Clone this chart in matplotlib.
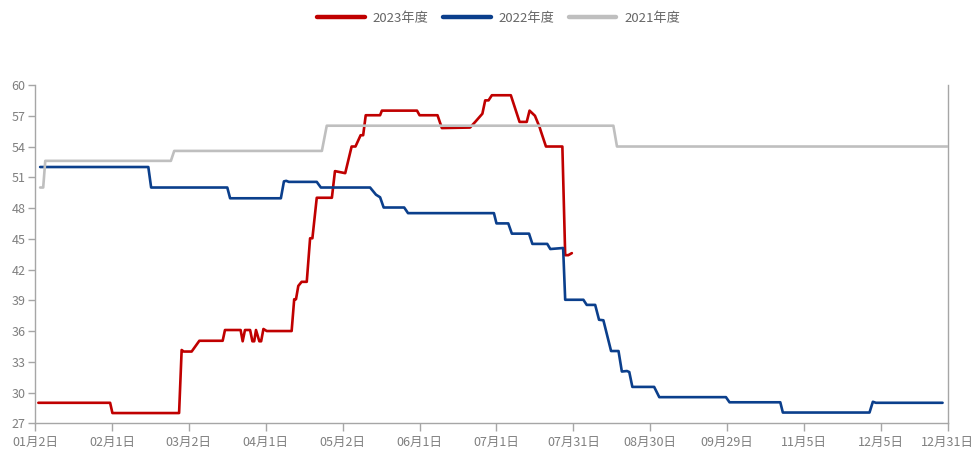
import matplotlib
matplotlib.use("Agg")
import matplotlib.pyplot as plt

plt.rcParams["font.family"] = ["Noto Sans CJK SC", "DejaVu Sans"]

# x axis is a category axis (day index), labels every 30 categories
tick_pos = [0, 30, 60, 90, 120, 150, 180, 210, 240, 270, 300, 330, 356]
tick_labels = ["01月2日", "02月1日", "03月2日", "04月1日", "05月2日", "06月1日",
               "07月1日", "07月31日", "08月30日", "09月29日", "11月5日", "12月5日",
               "12月31日"]

# 2023 (red): vertices (day index, price)
red_x = [1.3, 29.3, 30.2, 56.2, 57.2, 58, 61.1, 64.1, 73.2, 74.1, 80.2, 81.0,
         81.9, 83.9, 84.8, 85.5, 86.2, 87.5, 88.2, 89.1, 90.4, 100.1, 101.1,
         101.8, 102.7, 104, 106.0, 107.3, 108.2, 109.9, 115.8, 117, 121,
         123.5, 125, 127, 128, 129, 134.6, 135.3, 149, 150, 157, 158.7, 169.7,
         171.7, 174.5, 175.6, 176.9, 178.2, 185.6, 189, 191.8, 192.9, 195,
         196.8, 197.3, 199.3, 205.7, 206.8, 208, 209.4]
red_y = [29, 29, 28, 28, 34.15, 34.0, 34.0, 35.05, 35.05, 36.1, 36.1, 35,
         36.1, 36.1, 35, 35, 36.1, 35, 35, 36.2, 36.0, 36.0, 39.1,
         39.1, 40.4, 40.8, 40.8, 45.05, 45.05, 49.0, 49.0, 51.6, 51.4,
         54.0, 54.0, 55.1, 55.1, 57.05, 57.05, 57.5, 57.5, 57.05, 57.05, 55.8, 55.85,
         56.4, 57.2, 58.5, 58.5, 59.0, 59.0, 56.4, 56.4, 57.5, 57.0,
         55.9, 55.5, 54.0, 54.0, 43.4, 43.4, 43.6]

# 2022 (blue)
blue_x = [2, 44.2, 45.3, 75.0, 76.1, 95.9, 97.1, 98, 99, 109.9, 111.5,
          130.7, 133, 134.6, 136, 144, 145.5, 179, 180, 184.6, 186, 192.7,
          194, 199.8, 201, 206, 206.8, 213.9, 215.2, 218.5, 220.0, 221.7,
          224.7, 227.6, 228.9, 230.9, 231.8, 233.0, 241.5, 243.5, 269.5,
          270.9, 290.7, 291.7, 325.5, 326.8, 328, 354]
blue_y = [52.0, 52.0, 50.0, 50.0, 48.95, 48.95, 50.6, 50.65, 50.55, 50.55, 50.0,
          50.0, 49.3, 49.05, 48.05, 48.05, 47.5, 47.5, 46.5, 46.5, 45.5, 45.5,
          44.5, 44.5, 44.0, 44.1, 39.05, 39.05, 38.55, 38.55, 37.1, 37.05,
          34.05, 34.05, 32.05, 32.1, 32.0, 30.55, 30.55, 29.55, 29.55,
          29.05, 29.05, 28.05, 28.05, 29.1, 29.0, 29.0]

# 2021 (gray)
gray_x = [2, 3.2, 4, 53.0, 54.3, 111.9, 113.8, 225.6, 227, 356]
gray_y = [50.0, 50.0, 52.6, 52.6, 53.57, 53.57, 56.03, 56.03, 54.0, 54.0]

series = [("2023年度", red_x, red_y, "#C00000", 1),
          ("2022年度", blue_x, blue_y, "#0B3F8C", 2),
          ("2021年度", gray_x, gray_y, "#BFBFBF", 3)]

fig = plt.figure(figsize=(9.78, 4.53), dpi=100)
ax = fig.add_axes([35 / 978, 29.7 / 453, 912.7 / 978, 338.3 / 453])

for name, xs, ys, color, z in series:
    ax.plot(xs, ys, color=color, lw=1.9, zorder=z, label=name,
            solid_joinstyle="round", solid_capstyle="round")

ax.set_xlim(0, 356)
ax.set_ylim(27, 60)
ax.set_yticks(range(27, 61, 3))
ax.set_xticks(tick_pos)
ax.set_xticklabels(tick_labels)

axis_color = "#A6A6A6"
for side in ["left", "bottom", "right"]:
    ax.spines[side].set_color(axis_color)
    ax.spines[side].set_linewidth(1.0)
ax.spines["top"].set_visible(False)
ax.tick_params(axis="both", colors=axis_color, labelcolor="#7F7F7F",
               labelsize=9, width=1.0)
ax.tick_params(axis="x", length=6, pad=3)
ax.tick_params(axis="y", length=5, pad=2)

leg = fig.legend(loc="upper center", bbox_to_anchor=(0.51, 1.0), ncol=3,
                 frameon=False, fontsize=9.5, handlelength=3.6,
                 handletextpad=0.6, columnspacing=1.1)
for line in leg.get_lines():
    line.set_linewidth(3.2)
for t in leg.get_texts():
    t.set_color("#666666")

fig.savefig("out.png", dpi=100)
